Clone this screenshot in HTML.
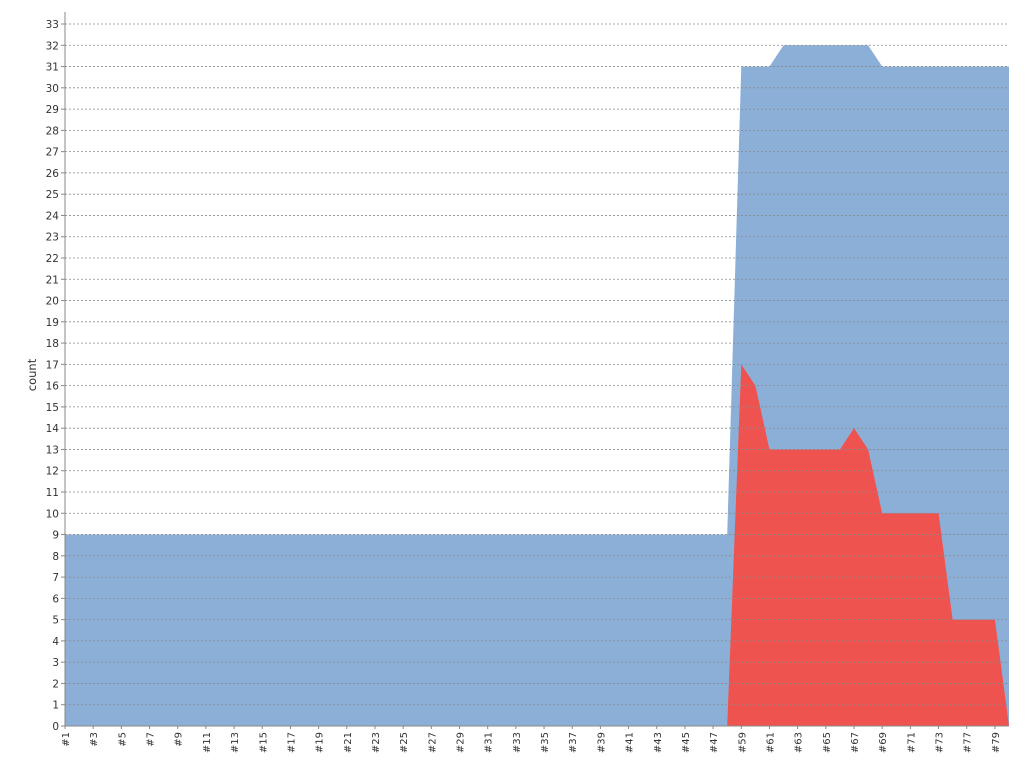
<!DOCTYPE html>
<html><head><meta charset="utf-8"><style>
html,body{margin:0;padding:0;background:#fff;}
svg{display:block;font-family:"DejaVu Sans","Liberation Sans",sans-serif;}
</style></head><body>
<svg id="chart" width="1036" height="767" viewBox="0 0 1036 767" xmlns="http://www.w3.org/2000/svg"></svg>
<script>
const categories = [];
for (let i = 1; i <= 48; i++) categories.push('#' + i);
['#59','#60','#61','#62','#63','#64','#65','#66','#67','#68','#69','#70','#71','#72','#73','#76','#77','#78','#79','#80'].forEach(c => categories.push(c));
const totalValues = [9,9,9,9,9,9,9,9,9,9,9,9,9,9,9,9,9,9,9,9,9,9,9,9,9,9,9,9,9,9,9,9,9,9,9,9,9,9,9,9,9,9,9,9,9,9,9,9,
  31,31,31,32,32,32,32,32,32,32,31,31,31,31,31,31,31,31,31,31];
const failValues = [0,0,0,0,0,0,0,0,0,0,0,0,0,0,0,0,0,0,0,0,0,0,0,0,0,0,0,0,0,0,0,0,0,0,0,0,0,0,0,0,0,0,0,0,0,0,0,0,
  17,16,13,13,13,13,13,13,14,13,10,10,10,10,10,5,5,5,5,0];
const yTicks = [];
for (let i = 0; i <= 33; i++) yTicks.push(i);

const NS = 'http://www.w3.org/2000/svg';
const svg = document.getElementById('chart');
const X0 = 65, X1 = 1009, Y0 = 726, Y1 = 24, YMAX = 33;
const xs = i => X0 + (X1 - X0) * i / (categories.length - 1);
const ys = v => Y0 - (Y0 - Y1) * v / YMAX;
function mk(tag, attrs) { const e = document.createElementNS(NS, tag); for (const k in attrs) e.setAttribute(k, attrs[k]); svg.appendChild(e); return e; }

function area(vals, fill, name) {
  let d = 'M' + xs(0) + ',' + ys(0);
  vals.forEach((v, i) => d += ' L' + xs(i) + ',' + ys(v));
  d += ' L' + xs(vals.length - 1) + ',' + ys(0) + ' Z';
  const p = mk('path', { d: d, fill: fill });
  
  
}
area(totalValues, '#8cafd8', 'total-area');
area(failValues, '#ef5350', 'failed-area');

yTicks.forEach(t => {
  if (t > 0) {
    const g = mk('line', { x1: X0, x2: X1, y1: ys(t), y2: ys(t), stroke: '#8a8a8a', 'stroke-width': 0.8, 'stroke-dasharray': '2,2' });
    
    
  }
  const tk = mk('line', { x1: X0 - 4, x2: X0, y1: ys(t), y2: ys(t), stroke: '#888', 'stroke-width': 1 });
  
  
  const tx = mk('text', { x: X0 - 6, y: ys(t) + 4, 'text-anchor': 'end', 'font-size': 10.5, fill: '#333' });
  tx.textContent = t;
  
  
});

categories.forEach((c, i) => {
  if (i % 2 !== 0) return;
  const x = xs(i);
  const tk = mk('line', { x1: x, x2: x, y1: Y0, y2: Y0 + 3, stroke: '#888', 'stroke-width': 1 });
  
  
  const tx = mk('text', { x: x + 4, y: Y0 + 6, 'text-anchor': 'end', 'font-size': 10, fill: '#333', transform: 'rotate(-90 ' + (x + 4) + ' ' + (Y0 + 6) + ')' });
  tx.textContent = c;
  
  
});

const ax = mk('line', { x1: X0, x2: X0, y1: Y1 - 12, y2: Y0, stroke: '#888', 'stroke-width': 1 });


const bx = mk('line', { x1: X0, x2: X1, y1: Y0, y2: Y0, stroke: '#888', 'stroke-width': 1 });


const yt = mk('text', { x: 36, y: 375, 'text-anchor': 'middle', 'font-size': 11.5, fill: '#333', transform: 'rotate(-90 36 375)' });
yt.textContent = 'count';


</script>
</body></html>
